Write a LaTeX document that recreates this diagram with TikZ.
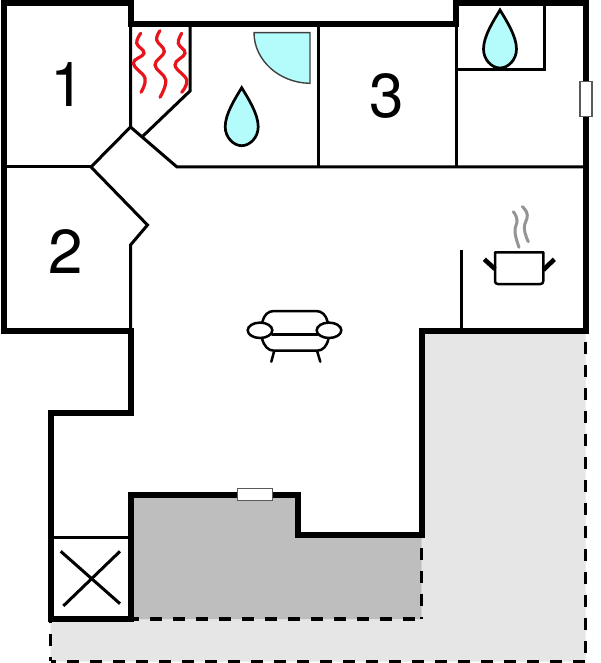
\documentclass[tikz,border=0pt]{standalone}
\usepackage{fontspec}
\setmainfont{TeX Gyre Heros}
\definecolor{drop}{HTML}{B4FBFB}
\definecolor{terr}{HTML}{BEBEBE}
\definecolor{yard}{HTML}{E6E6E6}
\definecolor{heat}{HTML}{E8141C}
\tikzset{
  wall/.style={line width=6pt,line join=miter,line cap=butt},
  thin wall/.style={line width=3pt,line join=miter},
  dashline/.style={line width=3.4pt,dash pattern=on 12pt off 11pt},
  win/.style={draw=black!65,fill=white,line width=1.4pt},
  dropshape/.style={draw=black,fill=drop,line width=2.7pt},
  wave/.style={draw=heat,line width=3.2pt,line cap=round},
  steam/.style={draw=black!42,line width=3pt,line cap=round},
  furn/.style={draw=black,line width=2.5pt,line cap=round},
  num/.style={font=\fontsize{62}{62}\selectfont,inner sep=0pt,anchor=center}
}
\newcommand{\waterdrop}[3]{% tip x, tip y, scale
  \path[dropshape,shift={(#1,#2)},scale=#3]
    (0,0) .. controls (6,10) and (16.5,26) .. (16.5,39)
    .. controls (16.5,50) and (8,58) .. (0,58)
    .. controls (-8,58) and (-16.5,50) .. (-16.5,39)
    .. controls (-16.5,26) and (-6,10) .. (0,0) -- cycle;}
\begin{document}
\begin{tikzpicture}[x=1pt,y=-1pt]
\useasboundingbox[fill=white] (0,0) rectangle (600,663);
% grounds
\fill[yard] (421.5,331) -- (585.5,331) -- (585.5,661.5) -- (50.5,661.5) -- (50.5,619) -- (421.5,619) -- cycle;
\fill[terr] (130.5,495) -- (297.5,495) -- (297.5,535) -- (421.5,535) -- (421.5,619) -- (130.5,619) -- cycle;
% dashed edges
\draw[dashline,dash phase=4pt] (130.5,619) -- (421.5,619);
\draw[dashline] (424,661.5) -- (50.5,661.5);
\draw[dashline,dash phase=8pt] (50.5,661) -- (50.5,622);
\draw[dashline] (585.5,342) -- (585.5,655);
\draw[dashline] (421.5,548) -- (421.5,619);
\draw[dashline] (585,661.5) -- (424,661.5);
% inner walls
\draw[thin wall] (130.5,25) -- (130.5,127) -- (91,167) -- (147.5,225) -- (130.5,245) -- (130.5,331);
\draw[thin wall] (4,167) -- (91,167);
\draw[thin wall] (130.5,127) -- (177,167) -- (585,167);
\draw[thin wall] (190,25) -- (190,91) -- (143,136);
\draw[thin wall] (318,25) -- (318,167);
\draw[thin wall] (456,25) -- (456,167);
\draw[thin wall] (456,70) -- (544,70) -- (544,3);
\draw[thin wall] (461.7,250) -- (461.7,331);
\draw[thin wall] (50,537.5) -- (130,537.5);
% cross
\draw[thin wall] (60.7,551.3) -- (120,603.7);
\draw[thin wall] (120,551.3) -- (63.3,606);
% outer walls
\draw[wall] (4,2.7) -- (130.5,2.7) -- (130.5,24.5) -- (456,24.5) -- (456,2.7) -- (585.5,2.7) -- (585.5,331) -- (421.5,331) -- (421.5,535) -- (297.5,535) -- (297.5,495) -- (130.5,495) -- (130.5,619) -- (50.5,619) -- (50.5,413) -- (130.5,413) -- (130.5,331) -- (4,331) -- cycle;
% windows
\path[win] (580,81.7) rectangle (592,116.7);
\path[win] (237.3,488.7) rectangle (272.3,500.7);
% heating
\draw[wave] plot[smooth,tension=0.7] coordinates {(140.7,33.3) (136.7,43.3) (144,53.3) (133.3,63.3) (145,78.3) (141,92.3)};
\draw[wave] plot[smooth,tension=0.7] coordinates {(160,30.7) (156.7,40) (164.3,51.7) (155,65) (165.7,80) (160,97.3)};
\draw[wave] plot[smooth,tension=0.7] coordinates {(181.7,33.3) (178.3,43.3) (185,53.3) (175,65) (186.7,80) (181.7,92.3)};
% shower and drops
\path[draw=black!75,fill=drop,line width=1.4pt] (254,32.7) -- (310,32.7) -- (310,83.3) .. controls (279,83) and (254,60) .. (254,32.7) -- cycle;
\waterdrop{241.7}{87.7}{1}
\waterdrop{500}{10}{1}
% sofa
\draw[furn] (262.3,322) .. controls (264,315) and (268,311) .. (274,311) -- (316,311) .. controls (322,311) and (326,315) .. (327.7,322);
\draw[furn] (272,334.7) -- (317.5,334.7);
\draw[furn] (262,338.5) .. controls (264,346) and (268,350.7) .. (274,350.7) -- (317,350.7) .. controls (323,350.7) and (327,346) .. (328.5,338.5);
\draw[furn] (274,351.7) -- (271.3,361.7);
\draw[furn] (317.3,351.7) -- (320.3,361.7);
\draw[furn] (260,330.3) ellipse [x radius=12.3,y radius=7.7];
\draw[furn] (329,330.3) ellipse [x radius=12.3,y radius=7.7];
% pot
\draw[furn,line join=round] (495,252.3) -- (543.3,252.3) -- (543.3,281) .. controls (543.3,283) and (542,284) .. (540.5,284) -- (498,284) .. controls (496,284) and (495,283) .. (495,281) -- cycle;
\draw[line width=4.6pt] (484.3,259.3) -- (495,269);
\draw[line width=4.6pt] (554.3,259.3) -- (543.3,270);
\draw[steam] plot[smooth,tension=0.8] coordinates {(513.3,211.7) (517,220) (515,232) (519,247.3)};
\draw[steam] plot[smooth,tension=0.8] coordinates {(522.3,206.7) (527.3,215) (524.3,228.3) (528.3,241.7)};
% numbers
\node[num] (n1) at (68,85) {1};
\node[num] (n2) at (66,252) {2};
\node[num] (n3) at (387,96) {3};
\end{tikzpicture}
\end{document}
